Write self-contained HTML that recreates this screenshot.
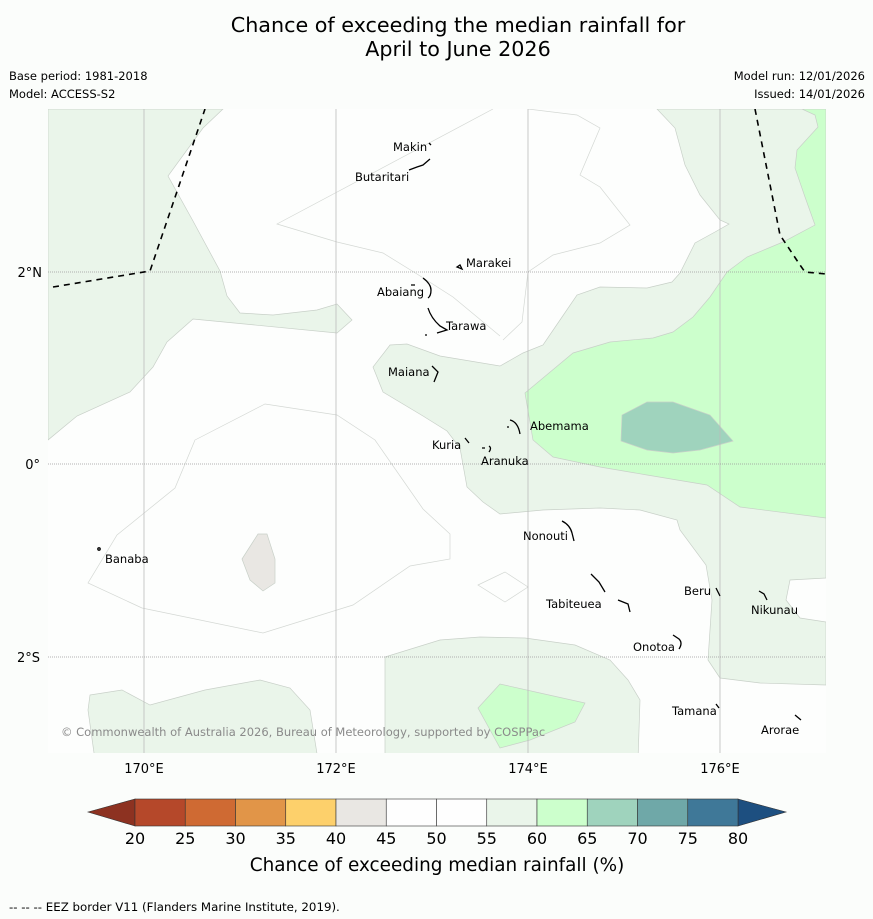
<!DOCTYPE html>
<html><head><meta charset="utf-8"><style>
body{margin:0;background:#fbfdfb;}
svg{display:block;font-family:"DejaVu Sans","Liberation Sans",sans-serif;}
</style></head><body>
<svg id="s" width="873" height="919" viewBox="0 0 873 919">
<rect width="873" height="919" fill="#fbfdfb"/>
<text x="458" y="32" font-size="20.7" text-anchor="middle">Chance of exceeding the median rainfall for</text>
<text x="458" y="56" font-size="20.7" text-anchor="middle">April to June 2026</text>
<text x="9" y="80" font-size="11.5">Base period: 1981-2018</text>
<text x="9" y="98" font-size="11.5">Model: ACCESS-S2</text>
<text x="865" y="80" font-size="11.5" text-anchor="end">Model run: 12/01/2026</text>
<text x="865" y="98" font-size="11.5" text-anchor="end">Issued: 14/01/2026</text>
<defs><clipPath id="mc"><rect x="48" y="109" width="778" height="644"/></clipPath></defs>
<g clip-path="url(#mc)">
<rect x="48" y="109" width="778" height="644" fill="#fdfefd"/>
<g stroke="#c8d0c8" stroke-width="0.7">
<polygon fill="#eaf5ea" points="48,109 223,109 203,128 168,176 193,221 220,271 227,296 240,313 273,315 317,310 337,304 352,320 337,333 193,319 167,342 153,367 130,392 77,416 48,440"/>
<polygon fill="#eaf5ea" points="657,109 826,109 826,578 790,580 786,600 800,618 826,622 826,685 760,683 720,678 708,660 712,600 706,565 680,530 677,520 640,510 600,508 543,510 500,514 483,502 467,487 460,448 447,431 423,416 383,392 373,367 390,345 407,344 440,356 500,366 523,353 543,345 560,320 577,295 600,287 647,288 672,282 680,273 695,243 715,232 729,224 720,220 700,195 685,165 675,128"/>
<polygon fill="#eaf5ea" points="385,657 440,640 480,637 525,638 575,645 610,660 628,680 640,700 638,760 385,760"/>
<polygon fill="#eaf5ea" points="90,695 122,690 150,705 205,690 260,680 290,688 310,710 318,760 95,760 88,710"/>
<polygon fill="#ccffcc" points="802,109 826,109 826,518 740,507 707,485 647,475 600,467 553,457 533,440 525,393 573,353 610,342 653,338 673,332 693,317 710,297 727,272 747,257 783,242 815,225 805,197 795,168 797,150 818,127 815,115"/>
<polygon fill="#ccffcc" points="478,708 500,684 540,693 585,703 575,722 530,740 500,748"/>
<polygon fill="#9fd3bd" points="622,415 647,402 673,402 710,415 733,441 700,450 673,453 647,450 621,441"/>
<polygon fill="#e9e7e3" points="242,559 258,534 267,534 275,559 275,583 263,591 250,580"/>
</g>
<g fill="none" stroke="#d4d8d4" stroke-width="0.7">
<polyline points="493,109 277,224 337,242 383,253 417,274 453,297 500,336"/>
<polyline points="528,109 577,115 600,128 580,175 600,187 630,225 600,243 553,255 528,272 522,322 503,340"/>
<polygon points="195,440 265,404 337,415 375,440 423,509 450,534 450,559 410,566 353,605 263,633 142,608 88,583 117,535 175,488"/>
<polygon points="478,585 505,572 528,587 505,602"/>
</g>
<g stroke="#bbb" stroke-width="0.8">
<line x1="144" y1="109" x2="144" y2="753"/><line x1="336" y1="109" x2="336" y2="753"/>
<line x1="528" y1="109" x2="528" y2="753"/><line x1="720" y1="109" x2="720" y2="753"/>
</g>
<g stroke="#999" stroke-width="0.8" stroke-dasharray="1,1">
<line x1="48" y1="272" x2="826" y2="272"/><line x1="48" y1="464" x2="826" y2="464"/><line x1="48" y1="657" x2="826" y2="657"/>
</g>
<g fill="none" stroke="#000" stroke-width="1.6" stroke-dasharray="6,5">
<polyline points="53,287 150,271 205,109"/>
<polyline points="755,109 780,235 800,265 805,272 826,274"/>
</g>
<g fill="none" stroke="#000" stroke-width="1.3">
<path d="M429,143 l2,2 M409,170 l8,-3 l6,-2 l7,-6"/>
<path d="M457,267 l3,-2 l2,4 z"/>
<path d="M423,278 q8,6 8,12 q0,6 -3,8 M411,285 h4"/>
<path d="M428,308 q3,10 12,18 l7,4 l-10,3 M425,335 h2"/>
<path d="M432,366 l6,6 l-4,10"/>
<path d="M510,420 q8,2 10,14 M507,427 h2"/>
<path d="M465,438 l4,5 M482,448 h3 M489,446 q3,2 0,6"/>
<path d="M562,521 q8,4 10,12 l2,8"/>
<path d="M591,574 l8,8 l6,10 M618,600 l10,4 l2,8"/>
<path d="M716,588 l4,8 M759,591 l5,3 l3,6"/>
<path d="M673,635 l6,4 q4,4 0,10"/>
<path d="M716,704 l3,4 M795,715 l6,5"/>
<circle cx="99" cy="549" r="1.2"/>
</g>
<g font-size="11.5" fill="#000">
<text x="393" y="151">Makin</text><text x="355" y="181">Butaritari</text>
<text x="466" y="267">Marakei</text><text x="377" y="296">Abaiang</text>
<text x="446" y="330">Tarawa</text><text x="388" y="376">Maiana</text>
<text x="530" y="430">Abemama</text><text x="432" y="449">Kuria</text>
<text x="481" y="465">Aranuka</text><text x="523" y="540">Nonouti</text>
<text x="105" y="563">Banaba</text><text x="684" y="595">Beru</text>
<text x="546" y="608">Tabiteuea</text><text x="751" y="614">Nikunau</text>
<text x="633" y="651">Onotoa</text><text x="672" y="715">Tamana</text>
<text x="761" y="734">Arorae</text>
</g>
<text x="61" y="736" font-size="11.5" fill="#8a8a8a">© Commonwealth of Australia 2026, Bureau of Meteorology, supported by COSPPac</text>
</g>
<g font-size="13">
<text x="42" y="277" text-anchor="end">2°N</text>
<text x="40" y="469" text-anchor="end">0°</text>
<text x="40" y="662" text-anchor="end">2°S</text>
<text x="144" y="773" text-anchor="middle">170°E</text>
<text x="336" y="773" text-anchor="middle">172°E</text>
<text x="528" y="773" text-anchor="middle">174°E</text>
<text x="720" y="773" text-anchor="middle">176°E</text>
</g>
<g id="cbar"></g>
<text x="437" y="871" font-size="18.4" text-anchor="middle">Chance of exceeding median rainfall (%)</text>
<text x="9" y="911" font-size="11.8">-- -- -- EEZ border V11 (Flanders Marine Institute, 2019).</text>
</svg>
<script>
const levels=[20,25,30,35,40,45,50,55,60,65,70,75,80];
const colors=["#b5482a","#cf6a33","#e19548","#fdd06b","#e9e7e3","#fefefe","#fefefe","#eaf5ea","#ccffcc","#9fd3bd","#6fa8a8","#3f7898"];
const ns="http://www.w3.org/2000/svg";
const g=document.getElementById('cbar');
const x0=135,x1=738,y0=799,y1=826;
const sx=v=>x0+(v-levels[0])/(levels[levels.length-1]-levels[0])*(x1-x0);
function mk(t,a){const e=document.createElementNS(ns,t);for(const k in a)e.setAttribute(k,a[k]);g.appendChild(e);return e;}
const la=mk('polygon',{points:`88,812 ${x0},${y0} ${x0},${y1}`,fill:'#8d3221',stroke:'#333','stroke-width':0.6});


const ra=mk('polygon',{points:`${x1},${y0} 786,812 ${x1},${y1}`,fill:'#1d4f80',stroke:'#333','stroke-width':0.6});


colors.forEach((c,i)=>{
 const r=mk('rect',{x:sx(levels[i]),y:y0,width:sx(levels[i+1])-sx(levels[i]),height:y1-y0,fill:c,stroke:'#333','stroke-width':0.6});
 
 
});
levels.forEach(v=>{
 const t=mk('text',{x:sx(v),y:844,'font-size':16,'text-anchor':'middle'});
 t.textContent=v;
 
 
});
</script>
</body></html>
